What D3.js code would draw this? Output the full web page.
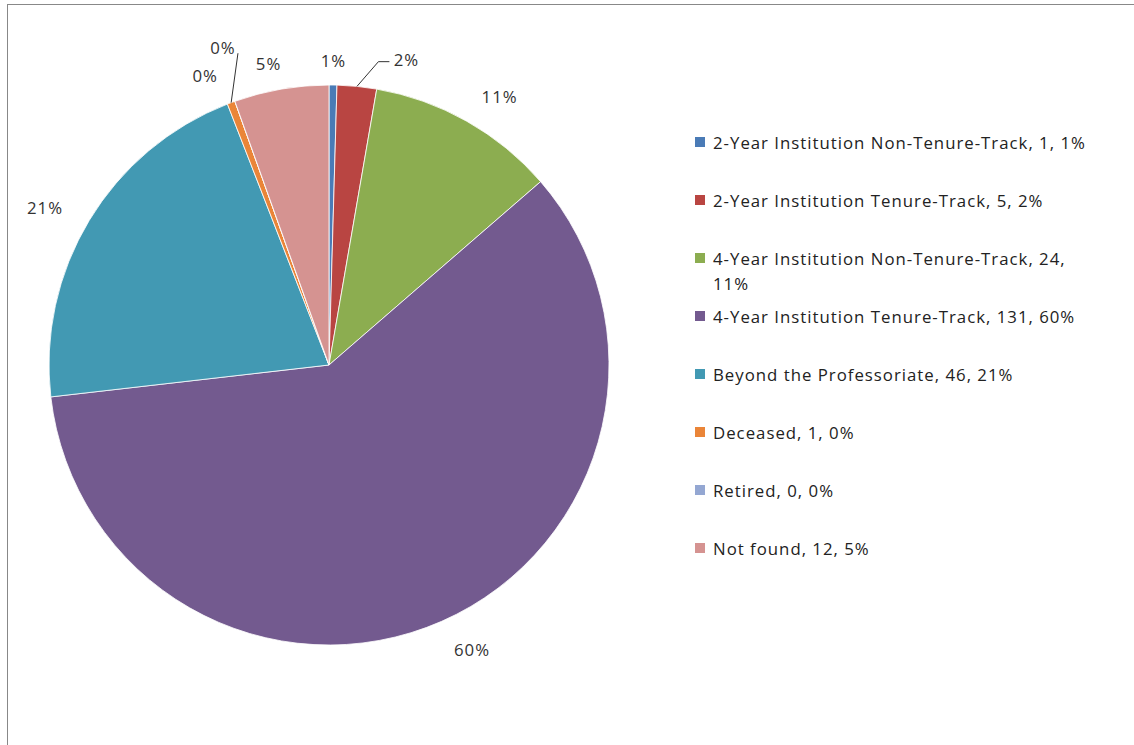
<!DOCTYPE html>
<html><head><meta charset="utf-8">
<script src="https://cdn.jsdelivr.net/npm/d3@7"></script>
<style>html,body{margin:0;padding:0;background:#fff;}text{font-family:"Open Sans",sans-serif;letter-spacing:1px;}</style>
</head><body>
<svg id="c" width="1134" height="745"></svg>
<script>
const categories = ["2-Year Institution Non-Tenure-Track","2-Year Institution Tenure-Track","4-Year Institution Non-Tenure-Track","4-Year Institution Tenure-Track","Beyond the Professoriate","Deceased","Retired","Not found"];
const values = [1, 5, 24, 131, 46, 1, 0, 12];
const pctLabels = ["1%","2%","11%","60%","21%","0%","0%","5%"];
const colors = ["#4a7bb6","#b94542","#8cad50","#735a8f","#4299b3","#ea8538","#94a7d2","#d59391"];

const W=1134,H=745, cx=329, cy=365, R=280;
const svg=d3.select("#c");
svg.append("rect").attr("x",7.5).attr("y",4.5).attr("width",W).attr("height",H).attr("fill","#fff").attr("stroke","#888");

const pie=d3.pie().sort(null).value(d=>d)(values);
const arc=d3.arc().innerRadius(0).outerRadius(R);
const g=svg.append("g").attr("transform",`translate(${cx},${cy})`);
g.selectAll("path").data(pie).join("path").attr("d",arc).attr("fill",(d,i)=>colors[i]).attr("stroke","#fff").attr("stroke-width",0.8);

// label layout (style, not data)
const labelR = [R+25,R+35,R+38,R+38,R+45,R+55,R+35,R+28];
const angOff = [0, 8.5, 3, -3, -2, 2, -3.5, -1.5];
const fs=16.8;
pie.forEach((d,i)=>{
  const a=(d.startAngle+d.endAngle)/2 + angOff[i]*Math.PI/180;
  const r=labelR[i];
  const x=Math.sin(a)*r, y=-Math.cos(a)*r;
  g.append("text").attr("x",x).attr("y",y).attr("text-anchor","middle").attr("dominant-baseline","central")
   .attr("font-size",fs).attr("fill","#333").text(pctLabels[i]);
});
function leader(i, pts){
  const d=pie[i]; const a=(d.startAngle+d.endAngle)/2;
  const p0=[Math.sin(a)*R, -Math.cos(a)*R];
  g.append("path").attr("d",d3.line()([p0,...pts])).attr("fill","none").attr("stroke","#333").attr("stroke-width",1);
}
{
  const d=pie[1]; const a=(d.startAngle+d.endAngle)/2 + angOff[1]*Math.PI/180;
  const x=Math.sin(a)*labelR[1], y=-Math.cos(a)*labelR[1];
  leader(1, [[x-28, y+2],[x-17,y+2]]);
}
{
  const d=pie[5]; const a=(d.startAngle+d.endAngle)/2 + angOff[5]*Math.PI/180;
  const x=Math.sin(a)*labelR[5], y=-Math.cos(a)*labelR[5];
  leader(5, [[x+15, y+6]]);
}

// legend
const lx=695, ly0=142, step=58, maxW=385;
const lg=svg.append("g");
categories.forEach((c,i)=>{
  const y=ly0+i*step;
  lg.append("rect").attr("x",lx).attr("y",y-5).attr("width",10).attr("height",10).attr("fill",colors[i]);
  const full=`${c}, ${values[i]}, ${pctLabels[i]}`;
  const t=lg.append("text").attr("x",lx+18).attr("y",y).attr("dominant-baseline","central").attr("font-size",fs).attr("fill","#222").text(full);
  if(t.node().getComputedTextLength()>maxW){
    const words=full.split(" ");
    let line=[], lines=[];
    t.text("");
    words.forEach(w=>{
      const test=[...line,w].join(" ");
      t.text(test);
      if(t.node().getComputedTextLength()>maxW && line.length){lines.push(line.join(" ")); line=[w];}
      else line.push(w);
    });
    lines.push(line.join(" "));
    t.text("");
    lines.forEach((l,k)=>t.append("tspan").attr("x",lx+18).attr("dy",k?25:0).text(l));
  }
});
</script>
</body></html>
